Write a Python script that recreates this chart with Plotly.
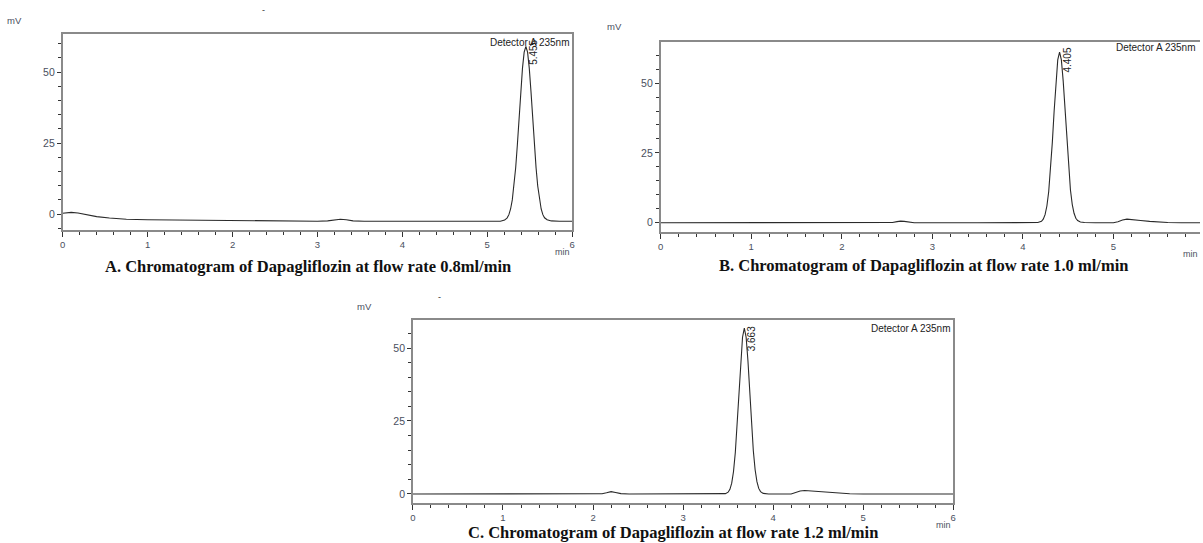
import plotly.graph_objects as go

W, H = 1203, 543

# ---------------- data ----------------
a_time = [0.00, 0.05, 0.10, 0.18, 0.28, 0.40, 0.55, 0.75, 1.00, 1.30, 1.60, 2.00, 2.50, 3.00,
          3.12, 3.20, 3.27, 3.34, 3.42, 3.55, 4.00, 4.50, 5.00, 5.155, 5.205, 5.235, 5.255,
          5.275, 5.295, 5.315, 5.335, 5.355, 5.375, 5.395, 5.415, 5.435, 5.455, 5.475, 5.495,
          5.515, 5.535, 5.555, 5.575, 5.595, 5.615, 5.635, 5.655, 5.675, 5.705, 5.755, 5.85, 6.00]
a_mv = [0.3, 0.5, 0.6, 0.4, -0.2, -0.9, -1.4, -1.8, -2.0, -2.1, -2.2, -2.3, -2.4, -2.5,
        -2.4, -2.0, -1.8, -2.0, -2.4, -2.5, -2.5, -2.5, -2.5, -2.5, -2.1, -1.3, -0.2,
        1.8, 5.0, 9.8, 16.3, 24.5, 33.8, 43.2, 51.4, 57.0, 59.0, 57.0, 51.4,
        43.2, 33.8, 24.5, 16.3, 9.8, 5.0, 1.8, -0.2, -1.3, -2.0, -2.4, -2.5, -2.5]

b_time = [0.00, 1.00, 2.00, 2.50, 2.56, 2.61, 2.65, 2.69, 2.74, 2.80, 3.50, 4.10, 4.165, 4.205,
          4.225, 4.245, 4.265, 4.285, 4.305, 4.325, 4.345, 4.365, 4.385, 4.405, 4.425, 4.445,
          4.465, 4.485, 4.505, 4.525, 4.545, 4.565, 4.585, 4.605, 4.635, 4.68, 4.80, 5.00,
          5.05, 5.10, 5.15, 5.20, 5.30, 5.40, 5.50, 5.60, 5.75, 5.96]
b_mv = [0.0, 0.0, 0.0, 0.0, 0.1, 0.4, 0.6, 0.5, 0.2, 0.0, 0.0, 0.0, 0.1, 0.5,
        1.3, 2.9, 6.0, 11.1, 18.7, 28.7, 39.9, 50.6, 58.3, 61.1, 58.3, 50.8,
        40.3, 29.3, 19.4, 11.8, 6.6, 3.4, 1.6, 0.8, 0.3, 0.1, 0.0, 0.0,
        0.4, 1.0, 1.3, 1.2, 0.8, 0.5, 0.25, 0.1, 0.0, 0.0]

c_time = [0.0, 1.0, 2.0, 2.10, 2.15, 2.20, 2.25, 2.31, 2.40, 3.0, 3.44, 3.47, 3.50, 3.52,
          3.54, 3.56, 3.58, 3.60, 3.62, 3.64, 3.66, 3.68, 3.70, 3.72, 3.74, 3.76, 3.78,
          3.80, 3.82, 3.84, 3.86, 3.89, 3.95, 4.20, 4.25, 4.30, 4.35, 4.45, 4.55, 4.70,
          4.85, 5.0, 6.0]
c_mv = [0.0, 0.0, 0.0, 0.05, 0.4, 0.8, 0.5, 0.1, 0.0, 0.0, 0.0, 0.1, 0.6, 1.6,
        3.7, 7.7, 14.2, 23.4, 34.5, 45.5, 53.7, 56.8, 53.7, 45.7, 34.9, 24.0, 14.8,
        8.3, 4.2, 1.9, 0.8, 0.2, 0.0, 0.0, 0.5, 1.0, 1.2, 1.0, 0.6, 0.25,
        0.05, 0.0, 0.0]

y_ticks = [0, 25, 50]
x_ticks = [0, 1, 2, 3, 4, 5, 6]
peak_labels = ["5.455", "4.405", "3.663"]
peak_times = [5.455, 4.405, 3.68]
titles = ["A. Chromatogram of Dapagliflozin at flow rate 0.8ml/min",
          "B. Chromatogram of Dapagliflozin at flow rate 1.0 ml/min",
          "C. Chromatogram of Dapagliflozin at flow rate 1.2 ml/min"]
detector_text = "Detector A 235nm"

# ---------------- geometry helpers ----------------
def px(x):
    return x / W

def py(y):
    return 1 - y / H

panels = [
    dict(l=60, r=572, t=34, b=230, xr=[0, 6], yr=[-5.6, 63.4], mirror=True),
    dict(l=661, r=1203, t=42, b=232, xr=[0, (1203 - 661) / 91.0], yr=[-3.3, 64.7], mirror=False),
    dict(l=412, r=955, t=320, b=503, xr=[0, 6], yr=[-3.1, 59.6], mirror=True),
]

data_sets = [(a_time, a_mv), (b_time, b_mv), (c_time, c_mv)]

fig = go.Figure()
ytickfont = dict(family="Liberation Sans, Arial, sans-serif", size=10.5, color="#4a4f5e")
xtickfont = dict(family="Liberation Sans, Arial, sans-serif", size=9.5, color="#4a4f5e")
axis_col = "#8a8a8a"
small_font = dict(family="Liberation Sans, Arial", size=10, color="#222")

layout = dict(width=W, height=H, margin=dict(l=0, r=0, t=0, b=0),
              paper_bgcolor="white", plot_bgcolor="white", showlegend=False)

annotations = []
for i, (p, (t, v)) in enumerate(zip(panels, data_sets)):
    n = "" if i == 0 else str(i + 1)
    fig.add_trace(go.Scatter(x=t, y=v, mode="lines", xaxis="x" + n, yaxis="y" + n,
                             line=dict(color="#2a2a2a", width=1.1), hoverinfo="skip"))
    layout["xaxis" + n] = dict(
        domain=[px(p["l"]), px(p["r"])], range=p["xr"], anchor="y" + n,
        showgrid=False, zeroline=False, showline=True, linecolor=axis_col, linewidth=1.6,
        mirror=True, ticks="outside", ticklen=5, tickwidth=1, tickcolor="#333",
        tickvals=x_ticks, tickfont=xtickfont,
        minor=dict(dtick=0.2, tick0=0, ticks="outside", ticklen=3, tickcolor="#333", showgrid=False),
    )
    layout["yaxis" + n] = dict(
        domain=[py(p["b"]), py(p["t"])], range=p["yr"], anchor="x" + n,
        showgrid=False, zeroline=False, showline=True, linecolor=axis_col, linewidth=1.6,
        mirror=p["mirror"], ticks="outside", ticklen=4, tickwidth=1, tickcolor="#333",
        tickvals=y_ticks, tickfont=ytickfont,
        minor=dict(dtick=5, tick0=0, ticks="outside", ticklen=3, tickcolor="#333", showgrid=False),
    )
    # detector label
    if i == 1:
        annotations.append(dict(text=detector_text, x=px(1117), y=py(47), xref="paper", yref="paper",
                                xanchor="left", yanchor="middle", showarrow=False, font=small_font))
    else:
        annotations.append(dict(text=detector_text, x=1, y=1, xref="x" + n + " domain", yref="y" + n + " domain",
                                xanchor="right", yanchor="top", yshift=-1, showarrow=False, font=small_font))
    # peak label (rotated)
    annotations.append(dict(text=peak_labels[i], x=peak_times[i], y=1, xref="x" + n, yref="y" + n + " domain",
                            xanchor="left", yanchor="top", yshift=-4, xshift=0, textangle=-90,
                            showarrow=False, font=small_font))
    # mV label
    mv_pos = [(12, 20), (615, 27), (363, 306)][i]
    annotations.append(dict(text="mV", x=px(mv_pos[0]), y=py(mv_pos[1]), xref="paper", yref="paper",
                            xanchor="center", yanchor="middle", showarrow=False,
                            font=dict(family="Liberation Sans, Arial", size=9.5, color="#4a4f5e")))
    # min label
    min_x = p["r"] if i != 1 else 1203
    annotations.append(dict(text="min", x=px(min_x), y=py(p["b"] + 22), xref="paper", yref="paper",
                            xanchor="right", yanchor="middle", showarrow=False,
                            font=dict(family="Liberation Sans, Arial", size=9, color="#4a4f5e")))

# titles
title_pos = [(307, 266), (925, 265), (673, 532)]
for txt, (tx, ty) in zip(titles, title_pos):
    annotations.append(dict(text="<b>" + txt + "</b>", x=px(tx), y=py(ty), xref="paper", yref="paper",
                            xanchor="center", yanchor="middle", showarrow=False,
                            font=dict(family="Liberation Serif, Times New Roman, serif", size=16.5, color="#111")))

# small stray dashes
for dx, dy in [(262, 10), (439, 297)]:
    annotations.append(dict(text="-", x=px(dx), y=py(dy), xref="paper", yref="paper",
                            xanchor="center", yanchor="middle", showarrow=False,
                            font=dict(family="Liberation Sans", size=9, color="#333")))

layout["annotations"] = annotations
fig.update_layout(**layout)
fig.write_html("out.html")
